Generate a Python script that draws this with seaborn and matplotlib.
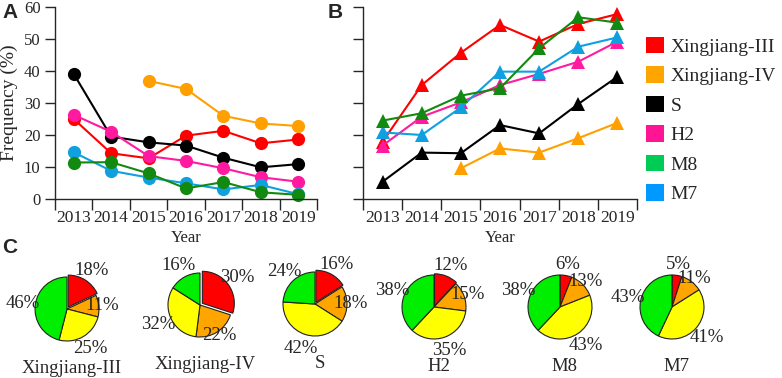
import numpy as np
import pandas as pd
import matplotlib
matplotlib.use('Agg')
import matplotlib.pyplot as plt
import seaborn as sns
from matplotlib.patches import Patch
from matplotlib.ticker import FixedLocator, FixedFormatter, NullFormatter

nan = np.nan
years = [2013, 2014, 2015, 2016, 2017, 2018, 2019]
series_names = ['Xingjiang-III', 'Xingjiang-IV', 'S', 'H2', 'M8', 'M7']

# Panel A (circles)
a_xj3 = [25.0, 14.3, 12.7, 19.8, 21.3, 17.4, 18.6]
a_xj4 = [nan, nan, 36.9, 34.4, 26.0, 23.6, 22.8]
a_s = [39.1, 19.5, 17.7, 16.7, 12.9, 9.9, 10.9]
a_h2 = [26.3, 21.0, 13.4, 11.9, 9.6, 6.8, 5.4]
a_m8 = [11.4, 11.5, 8.0, 3.3, 5.3, 2.1, 1.3]
a_m7 = [14.6, 8.8, 6.7, 4.9, 3.0, 4.4, 1.5]

# Panel B (triangles)
b_xj3 = [17.9, 35.6, 45.7, 54.4, 49.2, 54.7, 57.8]
b_xj4 = [nan, nan, 9.6, 15.8, 14.5, 19.0, 23.8]
b_s = [5.4, 14.5, 14.3, 23.1, 20.5, 29.7, 38.2]
b_h2 = [16.7, 25.7, 30.2, 35.6, 39.1, 42.9, 49.2]
b_m8 = [24.5, 26.8, 32.3, 34.6, 47.1, 56.8, 55.1]
b_m7 = [20.8, 20.0, 28.6, 39.8, 39.8, 47.6, 50.5]

# Panel C (pies), order follows series_names
pie_red = [18, 30, 16, 12, 6, 5]
pie_orange = [11, 22, 18, 15, 13, 11]
pie_yellow = [25, 32, 42, 35, 43, 41]
pie_green = [46, 16, 24, 38, 38, 43]

line_colors = {'Xingjiang-III': '#FF0000', 'Xingjiang-IV': '#FFA000', 'S': '#000000',
               'H2': '#FF1AA0', 'M8': '#128A12', 'M7': '#10A0E0'}
legend_colors = ['#FF0000', '#FFA500', '#000000', '#FF1493', '#00CC55', '#0099FF']
pie_colors = ['#FF0000', '#FFA500', '#FFFF00', '#00EE00']
label_dist = [1.35, 1.12, 1.45, 1.4]
explode_red = [0.07, 0.09, 0.06, 0.04, 0.0, 0.0]
draw_order = ['Xingjiang-III', 'Xingjiang-IV', 'S', 'H2', 'M7', 'M8']

sns.set_style('ticks')
plt.rcParams['font.family'] = ['Liberation Serif', 'DejaVu Serif']
plt.rcParams['axes.linewidth'] = 1.0

W, H = 782, 378
fig = plt.figure(figsize=(W / 100, H / 100), dpi=100)


def px_axes(x0, y0, x1, y1):
    return fig.add_axes([x0 / W, 1 - y1 / H, (x1 - x0) / W, (y1 - y0) / H])


def long_df(vals):
    rows = []
    for name, v in zip(series_names, vals):
        for yr, f in zip(years, v):
            rows.append({'Year': yr, 'Freq': f, 'Type': name})
    return pd.DataFrame(rows).dropna()


dfA = long_df([a_xj3, a_xj4, a_s, a_h2, a_m8, a_m7])
dfB = long_df([b_xj3, b_xj4, b_s, b_h2, b_m8, b_m7])

axA = px_axes(55, 7, 317, 199)
axB = px_axes(363, 7, 637, 199)

for ax, df, mk, ms in [(axA, dfA, 'o', 9.5), (axB, dfB, '^', 10.5)]:
    for name in draw_order:
        sub = df[df['Type'] == name]
        sns.lineplot(data=sub, x='Year', y='Freq', ax=ax, color=line_colors[name],
                     marker=mk, markersize=ms, markeredgewidth=0, lw=1.5,
                     estimator=None, legend=False, clip_on=False)
    ax.set_xlim(2012.5, 2019.5)
    ax.set_ylim(0, 60)
    ax.xaxis.set_major_locator(FixedLocator(np.arange(2012.5, 2020, 1.0)))
    ax.xaxis.set_major_formatter(NullFormatter())
    ax.xaxis.set_minor_locator(FixedLocator(years))
    ax.xaxis.set_minor_formatter(FixedFormatter([str(y) for y in years]))
    ax.tick_params(axis='x', which='major', length=8, width=1, direction='out')
    ax.tick_params(axis='x', which='minor', length=0, pad=8, labelsize=12.5)
    ax.yaxis.set_major_locator(FixedLocator(np.arange(0, 61, 10)))
    ax.tick_params(axis='y', which='major', length=7, width=1, direction='out', labelsize=12)
    ax.set_xlabel('Year', fontsize=12, labelpad=3)
    sns.despine(ax=ax)

axA.set_ylabel('Frequency (%)', fontsize=14, labelpad=4)
axB.set_ylabel('')
axB.set_yticklabels([])

handles = [Patch(facecolor=c, edgecolor='none') for c in legend_colors]
fig.legend(handles, series_names, loc='upper left', bbox_to_anchor=(646 / W, 1 - 37 / H),
           frameon=False, fontsize=14, handlelength=0.9, handleheight=0.9,
           handletextpad=0.35, labelspacing=0.55, borderaxespad=0, borderpad=0)

# pies
centers = [(67, 309), (200, 305), (315, 304), (434, 307), (560, 307), (672, 307)]
R = 32
for i, name in enumerate(series_names):
    cx, cy = centers[i]
    ax = px_axes(cx - R, cy - R, cx + R, cy + R)
    vals = [pie_red[i], pie_orange[i], pie_yellow[i], pie_green[i]]
    wedges, texts, autotexts = ax.pie(
        vals, colors=pie_colors, startangle=90, counterclock=False,
        explode=[explode_red[i], 0, 0, 0], autopct=lambda p: f'{p:.0f}%',
        pctdistance=1.3, wedgeprops=dict(edgecolor='#222222', linewidth=0.8),
        textprops=dict(fontsize=13.5))
    for w, t, d in zip(wedges, autotexts, label_dist):
        w.set_clip_on(False)
        ang = np.deg2rad((w.theta1 + w.theta2) / 2)
        cxw, cyw = w.center
        t.set_position((cxw + d * np.cos(ang), cyw + d * np.sin(ang)))
    ax.set_xlim(-1, 1)
    ax.set_ylim(-1, 1)
    ax.set_aspect('equal')
    ax.text(0.15, -1.85, name, ha='center', va='center', fontsize=13.5)

fig.text(2 / W, 1 - 13 / H, 'A', fontsize=15, fontweight='bold', family='Liberation Sans', va='center')
fig.text(328 / W, 1 - 12 / H, 'B', fontsize=15, fontweight='bold', family='Liberation Sans', va='center')
fig.text(2 / W, 1 - 247 / H, 'C', fontsize=15, fontweight='bold', family='Liberation Sans', va='center')

fig.savefig('out.png', dpi=100)
